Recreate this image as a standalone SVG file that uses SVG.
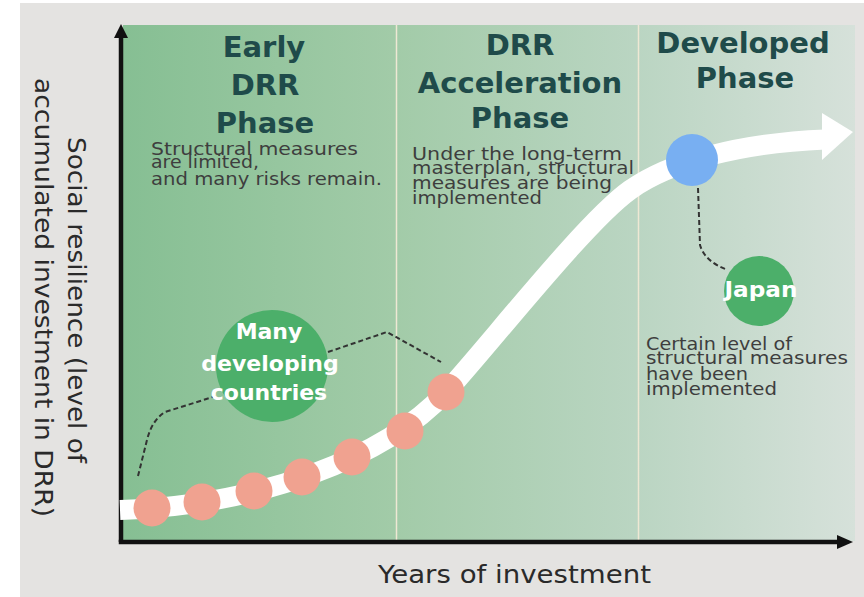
<svg xmlns="http://www.w3.org/2000/svg" width="864" height="597" viewBox="0 0 864 597">
<defs>
<linearGradient id="bg" x1="123" y1="0" x2="855" y2="0" gradientUnits="userSpaceOnUse">
<stop offset="0" stop-color="#86bf93"/>
<stop offset="0.37" stop-color="#a2cba8"/>
<stop offset="0.7" stop-color="#bad5c2"/>
<stop offset="1" stop-color="#d6e1da"/>
</linearGradient>
</defs>
<style>
.title{font-family:"DejaVu Sans",Verdana,sans-serif;font-weight:bold;font-size:29px;fill:#1f4b4a;text-anchor:middle}
.note{font-family:"DejaVu Sans Condensed","DejaVu Sans",sans-serif;font-size:18px;fill:#3e3e3e}
.axlabel{font-family:"DejaVu Sans",Verdana,sans-serif;font-size:24px;fill:#2a2a2a}
.btext{font-family:"DejaVu Sans",Verdana,sans-serif;font-weight:bold;fill:#ffffff;text-anchor:middle}
.dash{fill:none;stroke:#333333;stroke-width:2;stroke-dasharray:5 3}
.dot{fill:#f0a290}
.divider{stroke:#eee8d4;stroke-width:1.5}
.axis{stroke:#111111;stroke-width:4.5;fill:none}
</style>

<rect x="20" y="3" width="844" height="594" fill="#e4e3e1"/>
<rect x="123" y="25" width="732" height="516" fill="url(#bg)"/>
<line class="divider" x1="396.5" y1="25" x2="396.5" y2="540"/>
<line class="divider" x1="638.5" y1="25" x2="638.5" y2="540"/>

<g id="phase-early">
<text class="title" x="264" y="57">Early</text>
<text class="title" x="265" y="95">DRR</text>
<text class="title" x="265" y="133">Phase</text>
<text class="note" x="151" y="155" textLength="207" lengthAdjust="spacingAndGlyphs">Structural measures</text>
<text class="note" x="151" y="168" textLength="108" lengthAdjust="spacingAndGlyphs">are limited,</text>
<text class="note" x="151" y="185" textLength="231" lengthAdjust="spacingAndGlyphs">and many risks remain.</text>
</g>

<g id="phase-acceleration">
<text class="title" x="520" y="55">DRR</text>
<text class="title" x="520" y="93">Acceleration</text>
<text class="title" x="520" y="128">Phase</text>
<text class="note" x="412" y="160" textLength="210" lengthAdjust="spacingAndGlyphs">Under the long-term</text>
<text class="note" x="412" y="174" textLength="222" lengthAdjust="spacingAndGlyphs">masterplan, structural</text>
<text class="note" x="412" y="189" textLength="200" lengthAdjust="spacingAndGlyphs">measures are being</text>
<text class="note" x="412" y="204" textLength="130" lengthAdjust="spacingAndGlyphs">implemented</text>
</g>

<g id="phase-developed">
<text class="title" x="743" y="53">Developed</text>
<text class="title" x="745" y="88">Phase</text>
<text class="note" x="646" y="350" textLength="146" lengthAdjust="spacingAndGlyphs">Certain level of</text>
<text class="note" x="646" y="364" textLength="202" lengthAdjust="spacingAndGlyphs">structural measures</text>
<text class="note" x="646" y="380" textLength="102" lengthAdjust="spacingAndGlyphs">have been</text>
<text class="note" x="646" y="395" textLength="131" lengthAdjust="spacingAndGlyphs">implemented</text>
</g>

<g id="axes">
<line class="axis" x1="121" y1="542" x2="121" y2="36"/>
<polygon points="121,24 114,38 128,38" fill="#111111"/>
<line class="axis" x1="118.75" y1="542" x2="840" y2="542"/>
<polygon points="853,542 837,535 837,549" fill="#111111"/>
<text class="axlabel" transform="translate(68,300) rotate(90)" text-anchor="middle" textLength="326" lengthAdjust="spacingAndGlyphs">Social resilience (level of</text>
<text class="axlabel" transform="translate(35,297.5) rotate(90)" text-anchor="middle" textLength="439" lengthAdjust="spacingAndGlyphs">accumulated investment in DRR)</text>
<text class="axlabel" x="378" y="583" textLength="273" lengthAdjust="spacingAndGlyphs">Years of investment</text>
</g>

<g id="growth-curve">
<path d="M120,510 C260,505 385,458 446,392 C486,349 585,222 630,190 C670,161.6 740,143 825,139.5" fill="none" stroke="#ffffff" stroke-width="20"/>
<polygon points="822,113 853,132 822,160" fill="#ffffff"/>
</g>

<g id="developing-dots">
<circle class="dot" cx="152" cy="508" r="18.5"/>
<circle class="dot" cx="202" cy="502" r="18.5"/>
<circle class="dot" cx="254" cy="491" r="18.5"/>
<circle class="dot" cx="302" cy="477" r="18.5"/>
<circle class="dot" cx="352" cy="457" r="18.5"/>
<circle class="dot" cx="405" cy="431" r="18.5"/>
<circle class="dot" cx="446" cy="392" r="18.5"/>
</g>

<g id="japan-dot">
<circle cx="692" cy="160" r="26" fill="#78aff2"/>
</g>

<g id="connectors">
<path class="dash" d="M138,476 L147,440 Q152,420 165,412 L216,396"/>
<path class="dash" d="M328,352 L387,332 L441,362"/>
<path class="dash" d="M698,188 L700,245 Q705,262 728,270"/>
</g>

<g id="many-developing-countries">
<circle cx="272" cy="366" r="56" fill="#4caf6a"/>
<text class="btext" x="269" y="339" font-size="22">Many</text>
<text class="btext" x="270" y="371" font-size="22">developing</text>
<text class="btext" x="269" y="400" font-size="22">countries</text>
</g>

<g id="japan">
<circle cx="759" cy="291" r="35" fill="#4caf6a"/>
<text class="btext" x="761" y="297" font-size="22" textLength="73" lengthAdjust="spacingAndGlyphs">Japan</text>
</g>
</svg>
